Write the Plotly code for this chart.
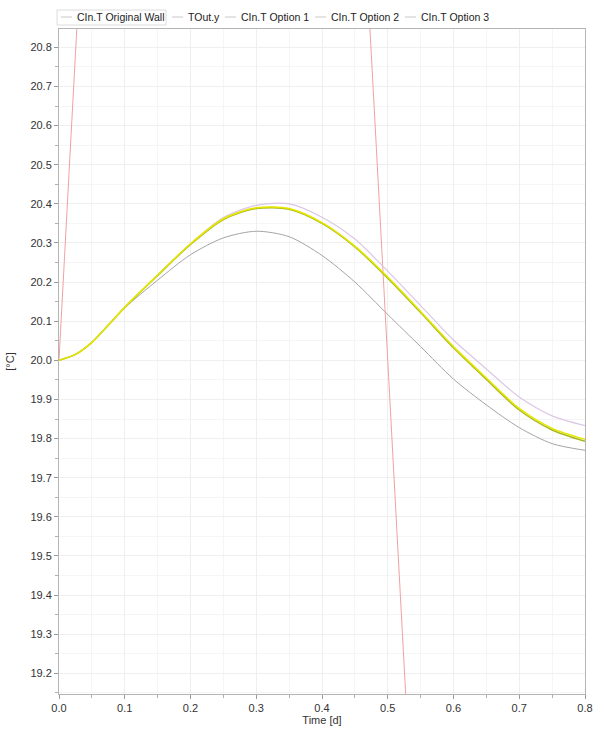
import plotly.graph_objects as go

# time axis [d]
t = [0.0, 0.025, 0.05, 0.075, 0.1, 0.15, 0.2, 0.25, 0.3, 0.35, 0.4, 0.45,
     0.5, 0.55, 0.6, 0.65, 0.7, 0.75, 0.8]

original_wall = [20.0, 20.015, 20.046, 20.09, 20.134, 20.205, 20.27, 20.313, 20.33, 20.316, 20.268, 20.2,
                 20.117, 20.035, 19.952, 19.886, 19.828, 19.787, 19.77]
option_1 = [20.0, 20.015, 20.046, 20.09, 20.136, 20.218, 20.298, 20.365, 20.396, 20.4, 20.366, 20.31,
            20.228, 20.14, 20.052, 19.978, 19.906, 19.858, 19.833]
option_2 = [20.0, 20.015, 20.046, 20.09, 20.136, 20.218, 20.298, 20.362, 20.39, 20.388, 20.352, 20.292,
            20.213, 20.125, 20.035, 19.955, 19.877, 19.826, 19.798]
option_3 = [20.0, 20.015, 20.046, 20.09, 20.135, 20.217, 20.296, 20.36, 20.388, 20.386, 20.35, 20.29,
            20.21, 20.122, 20.032, 19.951, 19.873, 19.822, 19.793]

# outdoor temperature, mostly outside the visible range
t_out = [0.0, 0.025, 0.05, 0.075, 0.1, 0.125, 0.15, 0.175, 0.2, 0.225, 0.25,
         0.275, 0.3, 0.325, 0.35, 0.375, 0.4, 0.425, 0.45, 0.475, 0.5,
         0.525, 0.55, 0.575, 0.6, 0.625, 0.65, 0.675, 0.7, 0.725, 0.75, 0.775, 0.8]
tout_y = [20.0, 20.782, 21.545, 22.27, 22.939, 23.536, 24.045, 24.455, 24.755, 24.938, 25.0,
          24.938, 24.755, 24.455, 24.045, 23.536, 22.939, 22.27, 21.545, 20.782, 20.0,
          19.218, 18.455, 17.73, 17.061, 16.464, 15.955, 15.545, 15.245, 15.062, 15.0, 15.062, 15.245]

names = ["CIn.T Original Wall", "TOut.y", "CIn.T Option 1", "CIn.T Option 2", "CIn.T Option 3"]

fig = go.Figure()

curves = [
    (t, original_wall, "#a4a4a4", 1),
    (t_out, tout_y, "#f2a0a0", 1),
    (t, option_1, "#dcc6e6", 1.2),
    (t, option_3, "#a6b820", 1.5),
    (t, option_2, "#e6e600", 1.5),
]
for x, y, color, w in curves:
    fig.add_trace(go.Scatter(x=x, y=y, mode="lines", showlegend=False, hoverinfo="skip",
                             line=dict(color=color, width=w, shape="spline", smoothing=0.8)))

W, H = 596, 729
PLOT_L, PLOT_R, PLOT_T, PLOT_B = 59, 585, 29, 694


def px_x(p):
    return (p - PLOT_L) / (PLOT_R - PLOT_L)


def px_y(p):
    return (PLOT_B - p) / (PLOT_B - PLOT_T)


# hand-placed legend row above the plot (short faint line samples like the original)
legend_text_x = [76, 187, 240, 330, 420]
legend_y = 17
for name, tx in zip(names, legend_text_x):
    fig.add_shape(type="line", xref="paper", yref="paper",
                  x0=px_x(tx - 15), x1=px_x(tx - 4), y0=px_y(legend_y), y1=px_y(legend_y),
                  line=dict(color="#c8c8c8", width=1))
    fig.add_annotation(text=name, xref="paper", yref="paper", x=px_x(tx - 1), y=px_y(legend_y),
                       xanchor="left", yanchor="middle", showarrow=False,
                       font=dict(size=10.5, color="#222222"))
fig.add_shape(type="rect", xref="paper", yref="paper",
              x0=px_x(57), x1=px_x(166), y0=px_y(25), y1=px_y(10),
              line=dict(color="#dcdcdc", width=1))

axis_common = dict(
    showline=True, linecolor="#b4b4b4", linewidth=1, mirror=True,
    ticks="outside", ticklen=4, tickcolor="#9a9a9a",
    showgrid=True, gridcolor="#efefef", gridwidth=1, zeroline=False,
    tickfont=dict(size=11, color="#333333"), automargin=False,
)

fig.update_xaxes(
    range=[0, 0.8], dtick=0.1, tickformat=".1f",
    title=dict(text="Time [d]", font=dict(size=11, color="#333333"), standoff=3),
    minor=dict(dtick=0.05, ticks="outside", ticklen=3, tickcolor="#b0b0b0",
               showgrid=True, gridcolor="#f5f5f5"),
    **axis_common,
)
fig.update_yaxes(
    range=[19.147, 20.847], dtick=0.1, tickformat=".1f",
    title=dict(text="[°C]", font=dict(size=11, color="#333333"), standoff=13),
    minor=dict(dtick=0.05, ticks="outside", ticklen=3, tickcolor="#b0b0b0",
               showgrid=True, gridcolor="#f5f5f5"),
    **axis_common,
)

fig.update_layout(
    width=W, height=H,
    margin=dict(l=PLOT_L, r=W - PLOT_R, t=PLOT_T, b=H - PLOT_B),
    paper_bgcolor="white", plot_bgcolor="white",
    font=dict(family="Liberation Sans, Arial, sans-serif", size=11, color="#333333"),
    showlegend=False,
)

# drop the default page margin so the figure sits exactly in the window
fig.write_html("out.html", config={"displayModeBar": False},
               post_script="document.body.style.margin='0';")
